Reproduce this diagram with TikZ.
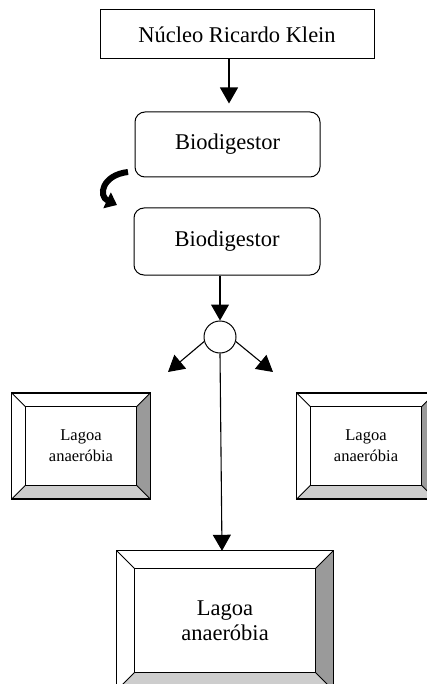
\documentclass[tikz,border=0pt]{standalone}
\usepackage{fontspec}
\setmainfont{Liberation Serif}
\usetikzlibrary{arrows.meta,calc}
\definecolor{facedark}{HTML}{9A9A9A}
\definecolor{facelight}{HTML}{CDCDCD}
\tikzset{
  plainbox/.style={draw, line width=1pt, inner sep=0pt, font=\fontsize{22.5}{25}\selectfont},
  roundbox/.style={plainbox, rounded corners=10pt},
  lagoabig/.style={inner sep=0pt, align=center, font=\fontsize{22.5}{25}\selectfont},
  lagoasmall/.style={inner sep=0pt, align=center, font=\fontsize{16.5}{21}\selectfont},
  arr/.style={line width=1.1pt, -{Triangle[width=18pt,length=16pt]}},
  curvearr/.style={line width=6pt, -{Triangle[width=17pt,length=11pt]}},
  joint/.style={circle, draw, line width=1pt, minimum size=32pt, inner sep=0pt}
}
\newcommand{\bevelfaces}[2]{%
  \fill[facedark] (#1.north east) -- (#1.south east) -- ([shift={(-#2,#2)}]#1.south east) -- ([shift={(-#2,-#2)}]#1.north east) -- cycle;
  \fill[facelight] (#1.south west) -- (#1.south east) -- ([shift={(-#2,#2)}]#1.south east) -- ([shift={(#2,#2)}]#1.south west) -- cycle;
  \draw[line width=1pt] ([shift={(#2,-#2)}]#1.north west) rectangle ([shift={(-#2,#2)}]#1.south east);
  \draw[line width=1pt] (#1.north west) -- ([shift={(#2,-#2)}]#1.north west)
    (#1.north east) -- ([shift={(-#2,-#2)}]#1.north east)
    (#1.south west) -- ([shift={(#2,#2)}]#1.south west)
    (#1.south east) -- ([shift={(-#2,#2)}]#1.south east);
  \draw[line width=1.3pt] (#1.north west) rectangle (#1.south east);
}
\begin{document}
\begin{tikzpicture}[x=1pt,y=-1pt]
\useasboundingbox (0,0) rectangle (427,684);
\clip (0,0) rectangle (427,684);
\fill[white] (0,0) rectangle (427,684);

\node[plainbox, minimum width=274pt, minimum height=49pt] (top) at (237,34.5) {Núcleo Ricardo Klein};
\node[roundbox, minimum width=185pt, minimum height=65pt] (bio1) at (227.5,144.5) {Biodigestor};
\node[roundbox, minimum width=186pt, minimum height=67pt] (bio2) at (227,241.5) {Biodigestor};
\node[joint] (circ) at (220,337) {};

\node[lagoasmall, minimum width=138pt, minimum height=105.5pt] (lagL) at (81,446) {Lagoa\\anaeróbia};
\node[lagoasmall, minimum width=138pt, minimum height=105.5pt] (lagR) at (366,446) {Lagoa\\anaeróbia};
\node[lagoabig, minimum width=216pt, minimum height=139pt] (lagB) at (225,620.5) {Lagoa\\anaeróbia};
\bevelfaces{lagL}{13.5pt}
\bevelfaces{lagR}{13.5pt}
\bevelfaces{lagB}{18pt}

\coordinate (tipL) at (168,372);
\coordinate (tipR) at (273,372);
\coordinate (cstart) at (128,172);
\coordinate (cend) at (117,205);

\draw[arr, shorten >=8pt] (top.south -| 229,0) -- (bio1.north -| 229,0);
\draw[arr] (bio2.south -| circ.north) -- (circ.north);
\draw[arr] (circ.196) -- (tipL);
\draw[arr] (circ.-16) -- (tipR);
\draw[arr] (circ.south) -- (lagB.north -| 222,0);
\draw[curvearr] (cstart) .. controls (102,175) and (98,196) .. (cend);
\end{tikzpicture}
\end{document}
